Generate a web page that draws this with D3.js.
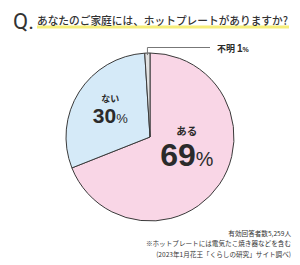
<!DOCTYPE html>
<html lang="ja">
<head>
<meta charset="utf-8">
<script src="https://d3js.org/d3.v7.min.js"></script>
<style>
  body { margin: 0; background: #fff; }
  svg { display: block; font-family: "Noto Sans CJK JP", "Noto Sans", sans-serif; }
</style>
</head>
<body>
<svg id="chart" width="300" height="265"></svg>
<script>
// data
var labels = ["ある", "ない", "不明"];
var values = [69, 30, 1];
var colors = ["#f9d6e6", "#d5eaf8", "#e2e2e2"];
var question = "あなたのご家庭には、ホットプレートがありますか?";
var notes = ["有効回答者数5,259人", "※ホットプレートには電気たこ焼き器などを含む", "(2023年1月花王「くらしの研究」サイト調べ)"];

var svg = d3.select("#chart");
var cx = 150, cy = 137, r = 84;

// title
svg.append("rect")
  .attr("x", 37).attr("y", 25.5).attr("width", 252).attr("height", 3)
  .attr("fill", "#f6ee7a");
svg.append("text")
  .attr("x", 13).attr("y", 29)
  .attr("font-family", "Roboto, 'Liberation Sans', sans-serif")
  .attr("font-size", 22).attr("fill", "#333")
  .text("Q.");
svg.append("text")
  .attr("x", 37).attr("y", 25)
  .attr("font-size", 11).attr("font-weight", "500").attr("fill", "#333")
  .attr("textLength", 251).attr("lengthAdjust", "spacingAndGlyphs")
  .text(question);

var pie = d3.pie().sort(null).value(function(d) { return d; });
var arcs = pie(values);
var arc = d3.arc().innerRadius(0).outerRadius(r);

var g = svg.append("g").attr("transform", "translate(" + cx + "," + cy + ")");

g.selectAll("path")
  .data(arcs)
  .enter().append("path")
    .attr("d", arc)
    .attr("fill", function(d, i) { return colors[i]; })
    .attr("stroke", "#3a3a3a")
    .attr("stroke-width", 1)
    .attr("stroke-linejoin", "round");

// big labels for the two main slices
var labelArc = d3.arc().innerRadius(47).outerRadius(47);
var bigSize = [32, 21];
var smallSize = [10.5, 9];
var gap = [31, 21];
[0, 1].forEach(function(i) {
  var c = labelArc.centroid(arcs[i]);
  var x = i === 0 ? c[0] - 2 : c[0];
  var y = i === 0 ? c[1] + 3 : c[1] + 11;
  var t = g.append("text")
    .attr("x", x).attr("y", y)
    .attr("text-anchor", "middle")
    .attr("font-family", "'Liberation Sans', Arial, sans-serif")
    .attr("font-weight", "bold")
    .attr("fill", "#2b2b2b")
    .attr("font-size", bigSize[i]);
  t.append("tspan").text(values[i]);
  t.append("tspan").attr("font-size", bigSize[i] * 0.62).attr("font-weight", "normal").text("%");
  g.append("text")
    .attr("x", x).attr("y", y - gap[i])
    .attr("text-anchor", "middle")
    .attr("font-weight", "bold")
    .attr("fill", "#2b2b2b")
    .attr("font-size", smallSize[i])
    .text(labels[i]);
});

// leader for the tiny slice
var tiny = arcs[2];
var mid = (tiny.startAngle + tiny.endAngle) / 2;
var px = Math.sin(mid) * (r - 2), py = -Math.cos(mid) * (r - 2);
g.append("polyline")
  .attr("points", [[px, py], [px, -89.5], [60, -89.5]].map(function(p) { return p.join(","); }).join(" "))
  .attr("fill", "none")
  .attr("stroke", "#777")
  .attr("stroke-width", 1);
var lt = g.append("text")
  .attr("x", 67).attr("y", -85)
  .attr("font-size", 9).attr("font-weight", "bold").attr("fill", "#2b2b2b");
lt.append("tspan").text(labels[2] + " ");
lt.append("tspan")
  .attr("font-family", "'Liberation Sans', Arial, sans-serif")
  .attr("font-size", 10)
  .text(values[2]);
lt.append("tspan")
  .attr("font-family", "'Liberation Sans', Arial, sans-serif")
  .attr("font-size", 7)
  .text("%");

// footnotes
svg.selectAll(".note")
  .data(notes)
  .enter().append("text")
    .attr("class", "note")
    .attr("x", 291)
    .attr("y", function(d, i) { return 236 + i * 10.3; })
    .attr("text-anchor", "end")
    .attr("font-size", 6.6)
    .attr("fill", "#333")
    .text(function(d) { return d; });
</script>
</body>
</html>
